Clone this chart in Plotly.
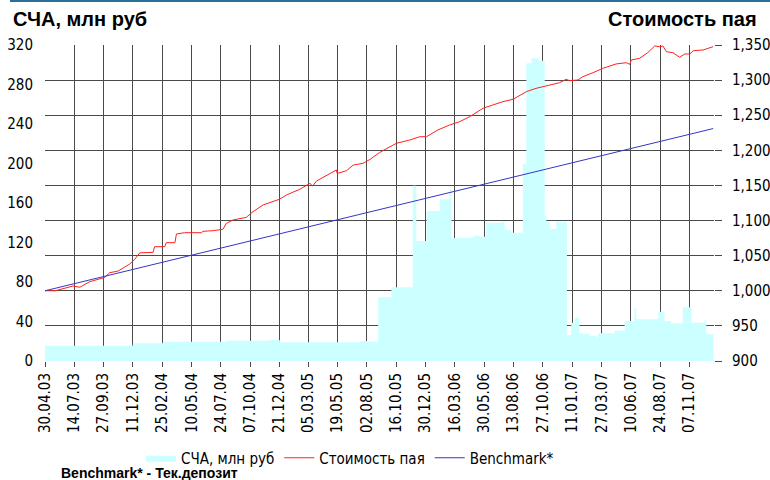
import plotly.graph_objects as go
import pandas as pd

# ---- data ----
tick_labels = ["30.04.03", "14.07.03", "27.09.03", "11.12.03", "25.02.04", "10.05.04",
               "24.07.04", "07.10.04", "21.12.04", "05.03.05", "19.05.05", "02.08.05",
               "16.10.05", "30.12.05", "16.03.06", "30.05.06", "13.08.06", "27.10.06",
               "11.01.07", "27.03.07", "10.06.07", "24.08.07", "07.11.07"]

nav_dates = ["2003-04-30", "2003-12-11", "2004-02-26", "2004-08-07", "2004-11-26", "2004-12-22",
             "2005-07-15", "2005-08-09", "2005-08-31", "2005-10-04", "2005-11-28", "2005-12-07",
             "2006-01-02", "2006-02-05", "2006-03-02", "2006-03-07", "2006-05-01", "2006-05-18",
             "2006-06-04", "2006-07-13", "2006-07-21", "2006-08-07", "2006-09-06", "2006-09-15",
             "2006-09-28", "2006-10-15", "2006-11-01", "2006-11-05", "2006-11-14", "2006-12-01",
             "2006-12-28", "2007-01-08", "2007-01-17", "2007-01-29", "2007-02-07", "2007-02-24",
             "2007-03-14", "2007-03-18", "2007-04-24", "2007-04-29", "2007-05-25", "2007-06-19",
             "2007-06-24", "2007-07-02", "2007-08-19", "2007-09-04", "2007-09-21", "2007-10-21",
             "2007-11-12", "2007-12-16", "2007-12-20", "2008-01-08"]
nav_values = [15.5, 18.0, 19.6, 20.6, 21.3, 18.9,
              20.3, 19.5, 64.5, 74.6, 177.5, 121.5,
              151.9, 163.7, 173.9, 124.5, 126.9, 125.9,
              140.0, 141.0, 132.7, 130.0, 199.5, 301.5,
              306.5, 304.0, 146.8, 141.0, 133.7, 141.0,
              26.3, 38.8, 43.9, 28.0, 27.4, 25.3,
              23.0, 28.0, 27.5, 30.7, 40.5, 53.3,
              42.5, 42.2, 50.0, 40.5, 38.2, 54.4,
              38.8, 41.6, 27.0, 27.0]

unit_dates = ["2003-04-30", "2003-05-26", "2003-07-11", "2003-07-28", "2003-08-23", "2003-09-30",
              "2003-10-13", "2003-11-03", "2003-12-03", "2003-12-16", "2003-12-29", "2004-02-01",
              "2004-02-05", "2004-03-02", "2004-03-06", "2004-03-28", "2004-04-01", "2004-04-22",
              "2004-06-04", "2004-06-08", "2004-07-04", "2004-07-29", "2004-08-07", "2004-08-24",
              "2004-09-27", "2004-10-14", "2004-11-09", "2004-12-21", "2005-01-08", "2005-02-11",
              "2005-03-09", "2005-03-16", "2005-03-26", "2005-04-20", "2005-05-16", "2005-05-18",
              "2005-06-11", "2005-06-28", "2005-07-23", "2005-08-10", "2005-09-04", "2005-09-30",
              "2005-10-17", "2005-11-20", "2005-12-16", "2006-01-02", "2006-01-31", "2006-03-02",
              "2006-03-28", "2006-04-23", "2006-05-27", "2006-06-21", "2006-07-17", "2006-08-12",
              "2006-09-15", "2006-10-10", "2006-11-05", "2006-12-09", "2006-12-26", "2007-01-04",
              "2007-01-25", "2007-02-07", "2007-03-05", "2007-03-30", "2007-05-03", "2007-05-29",
              "2007-06-07", "2007-06-11", "2007-07-02", "2007-07-23", "2007-08-10", "2007-08-23",
              "2007-08-31", "2007-09-09", "2007-09-26", "2007-10-13", "2007-10-26", "2007-11-08",
              "2007-11-17", "2007-12-12", "2007-12-25", "2008-01-07"]
unit_values = [1000.1, 1000.0, 1006.8, 1005.0, 1013.0, 1019.0,
               1025.8, 1028.0, 1038.0, 1044.8, 1054.0, 1054.7,
               1062.8, 1062.8, 1068.5, 1068.5, 1080.9, 1082.7,
               1082.7, 1084.7, 1085.6, 1087.5, 1096.0, 1100.8,
               1104.6, 1112.6, 1122.2, 1130.3, 1136.4, 1144.5,
               1153.0, 1149.2, 1156.3, 1163.5, 1172.0, 1167.0,
               1171.0, 1179.0, 1181.5, 1187.0, 1197.0, 1205.0,
               1210.0, 1214.7, 1219.4, 1219.4, 1229.0, 1236.0,
               1240.8, 1248.0, 1259.9, 1264.6, 1269.3, 1272.7,
               1283.5, 1288.3, 1291.6, 1296.3, 1301.2, 1299.2,
               1300.2, 1304.9, 1310.6, 1316.8, 1323.0, 1324.8,
               1322.5, 1328.6, 1331.0, 1339.0, 1348.6, 1347.6,
               1348.6, 1340.5, 1339.0, 1332.5, 1337.2, 1337.2,
               1341.9, 1342.9, 1345.3, 1347.6]

bench_dates = ["2003-04-30", "2005-03-26", "2008-01-07"]
bench_values = [1000.0, 1094.0, 1231.0]

left_ticks = [0, 40, 80, 120, 160, 200, 240, 280, 320]
right_ticks = [900, 950, 1000, 1050, 1100, 1150, 1200, 1250, 1300, 1350]

tick_vals = pd.to_datetime(tick_labels, format="%d.%m.%y")

FONT = "DejaVu Sans Condensed, DejaVu Sans"
GRID = "#4a4a4a"

fig = go.Figure()
fig.add_trace(go.Scatter(
    x=nav_dates, y=nav_values, name="СЧА, млн руб", mode="lines",
    line=dict(shape="hv", width=0, color="#CCFFFF"),
    fill="tozeroy", fillcolor="#CCFFFF", yaxis="y"))
fig.add_trace(go.Scatter(
    x=unit_dates, y=unit_values, name="Стоимость пая", mode="lines",
    line=dict(color="#FF2020", width=1), yaxis="y2"))
fig.add_trace(go.Scatter(
    x=bench_dates, y=bench_values, name="Benchmark*", mode="lines",
    line=dict(color="#3535C8", width=1), yaxis="y2"))

L, R, T, B = 45, 714, 45, 361
W, H = 770, 480
pw, ph = R - L, B - T

def px(xp):
    return (xp - L) / pw

def py(yp):
    return (B - yp) / ph

fig.update_layout(
    width=W, height=H,
    margin=dict(l=L, r=W - R, t=T, b=H - B, pad=0, autoexpand=False),
    paper_bgcolor="white", plot_bgcolor="white",
    font=dict(family=FONT, size=15, color="#000"),
    showlegend=True,
    legend=dict(orientation="h", x=px(350), xanchor="center", y=py(458), yanchor="middle",
                font=dict(family=FONT, size=15, color="#000"), bgcolor="rgba(0,0,0,0)",
                traceorder="normal"),
    xaxis=dict(type="date", range=["2003-04-30", "2008-01-09"],
               tickmode="array", tickvals=tick_vals, ticktext=tick_labels,
               tickangle=-90, ticks="outside", ticklen=5, tickcolor=GRID,
               showgrid=True, gridcolor=GRID, gridwidth=1,
               showline=False, zeroline=False, automargin=False,
               tickfont=dict(family=FONT, size=15, color="#000")),
    yaxis=dict(range=[0, 320], tickmode="array", tickvals=left_ticks,
               showgrid=False, zeroline=False, showline=False, ticks="",
               ticklabelstandoff=11, automargin=False,
               tickfont=dict(family=FONT, size=15, color="#000")),
    yaxis2=dict(range=[900, 1350], tickmode="array", tickvals=right_ticks,
                tickformat=",", overlaying="y", side="right",
                showgrid=True, gridcolor=GRID, gridwidth=1,
                zeroline=False, showline=False, ticks="outside", ticklen=7,
                tickcolor=GRID, ticklabelstandoff=7, automargin=False,
                tickfont=dict(family=FONT, size=15, color="#000")),
    shapes=[dict(type="line", xref="paper", yref="paper",
                 x0=px(10), x1=px(770), y0=py(1), y1=py(1),
                 line=dict(color="#2a6f97", width=2))],
    annotations=[
        dict(text="<b>СЧА, млн руб</b>", xref="paper", yref="paper",
             x=px(11), y=py(19), xanchor="left", yanchor="middle", showarrow=False,
             font=dict(family="Liberation Sans, Arial", size=20, color="#000")),
        dict(text="<b>Стоимость пая</b>", xref="paper", yref="paper",
             x=px(759), y=py(19), xanchor="right", yanchor="middle", showarrow=False,
             font=dict(family="Liberation Sans, Arial", size=20, color="#000")),
        dict(text="<b>Benchmark* - Тек.депозит</b>", xref="paper", yref="paper",
             x=px(59), y=py(473), xanchor="left", yanchor="middle", showarrow=False,
             font=dict(family="Liberation Sans, Arial", size=14, color="#000")),
    ],
)

fig.write_html("out.html", config={"displayModeBar": False},
               post_script="document.body.style.margin='0';")
